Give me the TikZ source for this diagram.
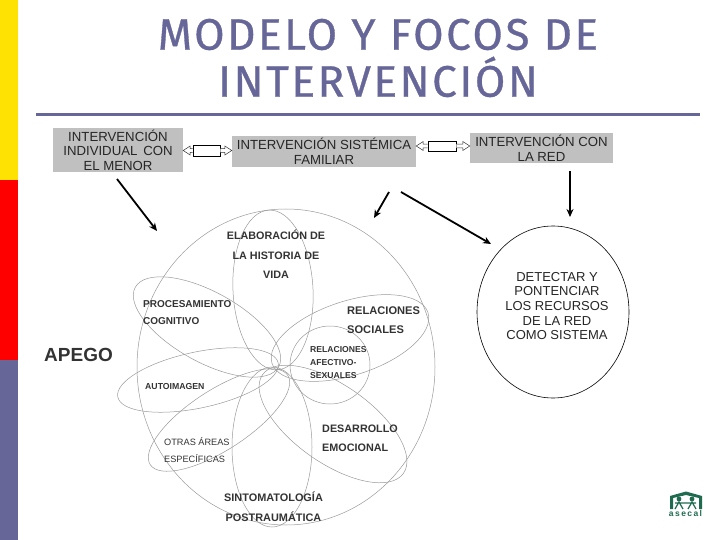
\documentclass[tikz,border=0pt]{standalone}
\usepackage{fontspec}
\setmainfont{Liberation Sans}
\newfontfamily\titlefont[LetterSpace=5.8,FakeBold=0.7]{Fira Sans}
\usetikzlibrary{shapes.geometric,arrows.meta,positioning,calc}

\definecolor{barblue}{HTML}{666699}
\definecolor{boxgray}{HTML}{C0C0C0}
\definecolor{logogreen}{HTML}{1F6B4F}
\definecolor{petalgray}{HTML}{999999}

\begin{document}
\begin{tikzpicture}[
    x=1pt, y=-1pt,
    bar/.style={draw=none, minimum width=18pt, minimum height=180pt, inner sep=0pt},
    focus/.style={rectangle, fill=boxgray, align=center, inner sep=0pt, text=black!85, font=\fontsize{13.2}{14.6}\selectfont},
    lnk/.style={rectangle, draw=black, fill=white, inner sep=0pt, line width=0.7pt},
    headline/.style={draw=black!80, fill=white, line width=0.5pt},
    arrow/.style={-{Stealth[length=8pt,width=7pt]}, line width=1.8pt},
    petal/.style={ellipse, draw=petalgray, line width=0.5pt, inner sep=0pt},
    lbl/.style={text=black!80, anchor=west, inner sep=0pt}
]
    \useasboundingbox (0,0) rectangle (720,540);

    % side bars and title
    \node (baryellow) [bar, fill=yellow!85!orange] at (9,90) {};
    \node (barred) [bar, fill=red] at (9,270) {};
    \node (barblue) [bar, fill=barblue] at (9,450) {};
    \node (title) [align=center, text=barblue, inner sep=0pt, font=\titlefont\fontsize{44}{47}\selectfont] at (378,58) {MODELO Y FOCOS DE\\INTERVENCIÓN};
    \coordinate (ruleL) at (36,114.5);
    \coordinate (ruleR) at (700,114.5);
    \draw [barblue, line width=3pt] (ruleL) -- (ruleR);

    % top row
    \node (menor) [focus, minimum width=130pt, minimum height=44pt] at (118,150) {INTERVENCIÓN\\INDIVIDUAL\, CON\\EL MENOR};
    \node (familia) [focus, minimum width=184pt, minimum height=31pt] at (324,151.5) {INTERVENCIÓN SISTÉMICA\\FAMILIAR};
    \node (red) [focus, minimum width=143pt, minimum height=30pt] at (541.5,148) {INTERVENCIÓN CON\\LA RED};
    \node (lnkA) [lnk, minimum width=27pt, minimum height=11pt] at (206.5,150.5) {};
    \node (lnkB) [lnk, minimum width=28pt, minimum height=10pt] at (442,146) {};
    \coordinate (lnkAl) at (menor.east |- lnkA);
    \coordinate (lnkAr) at (familia.west |- lnkA);
    \coordinate (lnkBl) at (familia.east |- lnkB);
    \coordinate (lnkBr) at (red.west |- lnkB);
    \foreach \a/\b/\s in {lnkA.west/lnkAl/1, lnkA.east/lnkAr/-1, lnkB.west/lnkBl/1, lnkB.east/lnkBr/-1}
        \draw [headline] ($(\a)+(0,-1.8)$) -- ($(\b)+(\s*7,-1.8)$) -- ($(\b)+(\s*7,-4.5)$) -- (\b)
            -- ($(\b)+(\s*7,4.5)$) -- ($(\b)+(\s*7,1.8)$) -- ($(\a)+(0,1.8)$);

    % big circle and petals
    \node (apego) [ellipse, draw=petalgray, line width=0.5pt, minimum width=298pt, minimum height=316pt, inner sep=0pt] at (286,367) {};
    \node (pHistoria) [petal, minimum width=80pt, minimum height=160pt, rotate=3] at (273,290) {};
    \node (pProceso) [petal, minimum width=164pt, minimum height=70pt, rotate=-29] at (207,327) {};
    \node (pImagen) [petal, minimum width=164pt, minimum height=56pt, rotate=12] at (198,380) {};
    \node (pOtras) [petal, minimum width=164pt, minimum height=60pt, rotate=33] at (219,420) {};
    \node (pSinto) [petal, minimum width=80pt, minimum height=160pt] at (272,447) {};
    \node (pDesa) [petal, minimum width=172pt, minimum height=78pt, rotate=-35] at (333,424) {};
    \node (pSoc) [petal, minimum width=164pt, minimum height=74pt, rotate=18] at (350,338) {};
    \node (pAfect) [petal, minimum width=80pt, minimum height=78pt] at (330,365) {};

    % labels inside the circle
    \node (tHist) [lbl, align=center, anchor=center, font=\bfseries\fontsize{10.8}{19.5}\selectfont] at (276,254.5) {ELABORACIÓN DE\\LA HISTORIA DE\\VIDA};
    \node (tProc) [lbl, align=left, font=\bfseries\fontsize{10}{16.5}\selectfont] at (143,312.5) {PROCESAMIENTO\\COGNITIVO};
    \node (tSoc) [lbl, align=left, font=\bfseries\fontsize{11.1}{19.5}\selectfont] at (347,320) {RELACIONES\\SOCIALES};
    \node (tAfect) [lbl, align=left, font=\bfseries\fontsize{8.6}{13}\selectfont] at (310,363) {RELACIONES\\AFECTIVO-\\SEXUALES};
    \node (tImagen) [lbl, font=\bfseries\fontsize{8.7}{11}\selectfont] at (145,387) {AUTOIMAGEN};
    \node (tOtras) [lbl, align=left, font=\fontsize{9.2}{17.5}\selectfont] at (164,450) {OTRAS ÁREAS\\ESPECÍFICAS};
    \node (tDesa) [lbl, align=left, font=\bfseries\fontsize{10.8}{19.5}\selectfont] at (322,438.5) {DESARROLLO\\EMOCIONAL};
    \node (tSinto) [lbl, align=center, anchor=center, font=\bfseries\fontsize{10.9}{20}\selectfont] at (273.5,507) {SINTOMATOLOGÍA\\POSTRAUMÁTICA};
    \node (tApego) [lbl, font=\bfseries\fontsize{19}{20}\selectfont] at (44,355) {APEGO};

    % right ellipse
    \node (detectar) [ellipse, draw=black, line width=0.6pt, minimum width=152pt, minimum height=172pt, inner sep=0pt] at (553,312) {};
    \node (tDetectar) [align=center, inner sep=0pt, text=black!85, font=\fontsize{13}{14.6}\selectfont] at (557,306) {DETECTAR Y\\PONTENCIAR\\LOS RECURSOS\\DE LA RED\\COMO SISTEMA};

    % arrows
    \coordinate (menorS) at (117,179);
    \coordinate (apegoNW) at (157,231);
    \coordinate (famS) at (389,192);
    \coordinate (apegoNE) at (374,218);
    \coordinate (famSE) at (401,192);
    \coordinate (detNW) at (491,244);
    \coordinate (redS) at (570,171);
    \coordinate (detN) at (570,217);
    \draw [arrow] (menorS) -- (apegoNW);
    \draw [arrow] (famS) -- (apegoNE);
    \draw [arrow] (famSE) -- (detNW);
    \draw [arrow] (redS) -- (detN);

    % logo
    \fill [logogreen] (670,496) -- (686,491.5) -- (702,496) -- (702,509) -- (699,509) -- (699,498) -- (686,495) -- (673,498) -- (673,509) -- (670,509) -- cycle;
    \fill [logogreen] (679,499) circle (2.4) (692,499) circle (2.4);
    \draw [logogreen, line width=1.2pt] (675,509) -- (679,502) -- (683,509) (688,509) -- (692,502) -- (696,509) (675,503) -- (696,503);
    \node (asecal) [text=logogreen, inner sep=0pt, font=\bfseries\fontsize{8.5}{9}\selectfont] at (685.5,513.5) {a\,s\,e\,c\,a\,l};
\end{tikzpicture}
\end{document}
